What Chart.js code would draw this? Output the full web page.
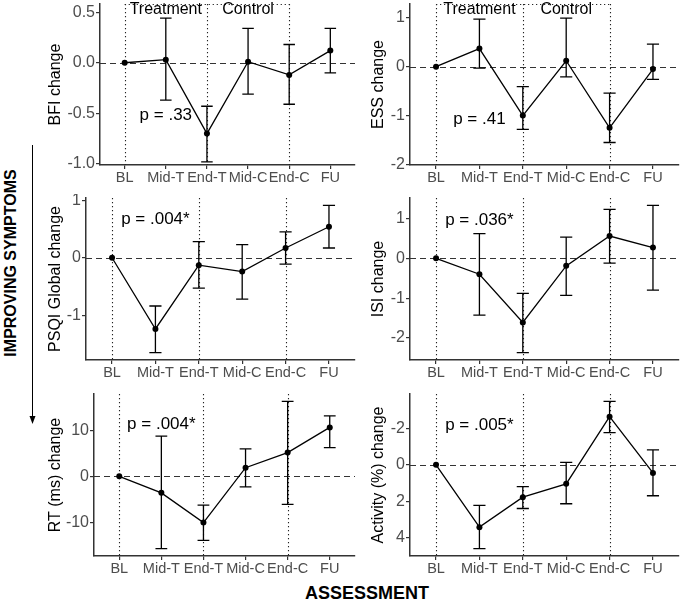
<!DOCTYPE html>
<html>
<head>
<meta charset="utf-8">
<script src="https://cdn.jsdelivr.net/npm/chart.js@4"></script>
<style>
  body { margin: 0; background: #fff; }
  #fig { position: relative; width: 685px; height: 601px; font-family: "Liberation Sans", Arial, sans-serif; }
  #sideLabel { position: absolute; left: 11px; top: 263px; transform: translate(-50%, -50%) rotate(-90deg);
               font-weight: bold; font-size: 16px; white-space: nowrap; color: #000; }
  #bottomLabel { position: absolute; left: 367px; top: 593px; transform: translate(-50%, -50%);
                 font-weight: bold; font-size: 18px; white-space: nowrap; color: #000; }
</style>
</head>
<body>
<div id="fig">
  <svg width="685" height="601" style="position:absolute;left:0;top:0">
    <line x1="32.5" y1="145" x2="32.5" y2="417" stroke="#000" stroke-width="1"/>
    <polygon points="29.5,416 35.5,416 32.5,424" fill="#000"/>
  </svg>
  <div id="sideLabel">IMPROVING SYMPTOMS</div>
  <div id="bottomLabel">ASSESSMENT</div>
</div>
<script>
// categories and phase markers
const assessments = ['BL', 'Mid-T', 'End-T', 'Mid-C', 'End-C', 'FU'];
const phaseLines = ['BL', 'End-T', 'End-C'];
const phaseNames = ['Treatment', 'Control'];

const measures = ['BFI change', 'ESS change', 'PSQI Global change', 'ISI change', 'RT (ms) change', 'Activity (%) change'];
const pLabels = ['p = .33', 'p = .41', 'p = .004*', 'p = .036*', 'p = .004*', 'p = .005*'];

// mean change and error bar ends
const bfiMean = [0, 0.03, -0.70, 0.01, -0.12, 0.12];
const bfiLow  = [0, -0.37, -0.98, -0.31, -0.41, -0.10];
const bfiHigh = [0, 0.44, -0.43, 0.34, 0.18, 0.34];

const essMean = [0, 0.37, -1.00, 0.12, -1.25, -0.05];
const essLow  = [0, -0.03, -1.28, -0.21, -1.55, -0.26];
const essHigh = [0, 0.97, -0.41, 0.99, -0.54, 0.46];

const psqiMean = [0, -1.24, -0.13, -0.24, 0.17, 0.54];
const psqiLow  = [0, -1.65, -0.53, -0.72, -0.11, 0.17];
const psqiHigh = [0, -0.84, 0.28, 0.23, 0.45, 0.91];

const isiMean = [0, -0.40, -1.61, -0.19, 0.56, 0.27];
const isiLow  = [0, -1.43, -2.37, -0.93, -0.12, -0.80];
const isiHigh = [0, 0.62, -0.88, 0.53, 1.23, 1.33];

const rtMean = [0, -3.6, -10.1, 1.9, 5.2, 10.7];
const rtLow  = [0, -15.8, -14.0, -2.3, -6.1, 6.3];
const rtHigh = [0, 8.8, -6.3, 6.0, 16.4, 13.2];

const actMean = [0, 3.41, 1.77, 1.04, -2.64, 0.44];
const actLow  = [0, 2.22, 1.19, -0.14, -3.48, -0.82];
const actHigh = [0, 4.59, 2.39, 2.13, -1.77, 1.69];

// y tick labels
const bfiTicks = [-1.0, -0.5, 0, 0.5];
const essTicks = [-2, -1, 0, 1];
const psqiTicks = [-1, 0, 1];
const isiTicks = [-2, -1, 0, 1];
const rtTicks = [-10, 0, 10];
const actTicks = [-2, 0, 2, 4];

Chart.defaults.font.family = '"Liberation Sans", Arial, sans-serif';

// panel layout: box = [left, top, width, height]
const panels = [
  { mean: bfiMean, low: bfiLow, high: bfiHigh, ticks: bfiTicks, digits: 1, min: -1.01, max: 0.58,
    pY: -0.51, box: [40, 0, 319, 187], yw: 60, pad: 3, tpad: 6, phases: true },
  { mean: essMean, low: essLow, high: essHigh, ticks: essTicks, digits: 0, min: -2.01, max: 1.28,
    pY: -1.05, box: [360, 0, 323, 187], yw: 50, pad: 3, tpad: 9, phases: true },
  { mean: psqiMean, low: psqiLow, high: psqiHigh, ticks: psqiTicks, digits: 0, min: -1.78, max: 1.04,
    pY: 0.69, box: [40, 194, 319, 188], yw: 46, pad: 4, tpad: 6 },
  { mean: isiMean, low: isiLow, high: isiHigh, ticks: isiTicks, digits: 0, min: -2.555, max: 1.515,
    pY: 0.98, box: [360, 194, 323, 188], yw: 50, pad: 4, tpad: 9 },
  { mean: rtMean, low: rtLow, high: rtHigh, ticks: rtTicks, digits: 0, min: -17.4, max: 18.0,
    pY: 11.6, box: [40, 390, 319, 188], yw: 54, pad: 3, tpad: 6 },
  { mean: actMean, low: actLow, high: actHigh, ticks: actTicks, digits: 0, min: -3.88, max: 4.99,
    pY: -2.26, box: [360, 390, 323, 188], yw: 50, pad: 3, tpad: 9, reverse: true }
];

const decor = {
  id: 'panelDecor',
  beforeDatasetsDraw(chart, args, opts) {
    const {ctx, chartArea: a, scales: {x, y}} = chart;
    ctx.save();
    ctx.strokeStyle = '#222';
    ctx.lineWidth = 1.1;
    ctx.setLineDash([1.2, 2.8]);
    phaseLines.forEach(name => {
      const px = Math.round(x.getPixelForValue(assessments.indexOf(name))) + 0.5;
      ctx.beginPath(); ctx.moveTo(px, a.top); ctx.lineTo(px, a.bottom); ctx.stroke();
    });
    if (opts.phases) {
      const x0 = x.getPixelForValue(assessments.indexOf(phaseLines[0]));
      const x2 = x.getPixelForValue(assessments.indexOf(phaseLines[2]));
      ctx.beginPath(); ctx.moveTo(x0, a.top + 0.5); ctx.lineTo(x2, a.top + 0.5); ctx.stroke();
      ctx.fillStyle = '#000';
      ctx.font = '16px "Liberation Sans", Arial, sans-serif';
      ctx.textAlign = 'center';
      ctx.textBaseline = 'alphabetic';
      phaseNames.forEach((name, k) => {
        const l = x.getPixelForValue(assessments.indexOf(phaseLines[k]));
        const r = x.getPixelForValue(assessments.indexOf(phaseLines[k + 1]));
        ctx.fillText(name, (l + r) / 2, a.top + 10);
      });
    }
    const y0 = Math.round(y.getPixelForValue(0)) + 0.5;
    ctx.setLineDash([6, 4]);
    ctx.lineWidth = 1.2;
    ctx.strokeStyle = '#333';
    ctx.beginPath(); ctx.moveTo(a.left, y0); ctx.lineTo(a.right, y0); ctx.stroke();
    ctx.restore();
  },
  afterDatasetsDraw(chart, args, opts) {
    const {ctx, scales: {x, y}} = chart;
    ctx.save();
    ctx.strokeStyle = '#000';
    ctx.lineWidth = 1.3;
    opts.low.forEach((lo, k) => {
      const hi = opts.high[k];
      if (lo === hi) return;
      const px = x.getPixelForValue(k);
      const l = x.getPixelForValue(k - 0.14), r = x.getPixelForValue(k + 0.14);
      const y1 = y.getPixelForValue(lo), y2 = y.getPixelForValue(hi);
      ctx.beginPath();
      ctx.moveTo(px, y1); ctx.lineTo(px, y2);
      ctx.moveTo(l, y1); ctx.lineTo(r, y1);
      ctx.moveTo(l, y2); ctx.lineTo(r, y2);
      ctx.stroke();
    });
    ctx.fillStyle = '#000';
    ctx.font = '17px "Liberation Sans", Arial, sans-serif';
    ctx.textAlign = 'center';
    ctx.textBaseline = 'alphabetic';
    ctx.fillText(opts.label, x.getPixelForValue(1), y.getPixelForValue(opts.labelY) + 6);
    ctx.restore();
  }
};

const fig = document.getElementById('fig');

function makePanel(p, i) {
  const [left, top, w, h] = p.box;
  const c = document.createElement('canvas');
  c.width = w;
  c.height = h;
  c.style.cssText = `position:absolute;left:${left}px;top:${top}px;width:${w}px;height:${h}px`;
  fig.appendChild(c);

  const axisGrid = { drawOnChartArea: false, drawTicks: true, tickLength: 4, color: '#333', lineWidth: 1.2 };
  const axisBorder = { display: true, color: '#333', width: 1.5 };

  new Chart(c, {
    type: 'line',
    data: {
      datasets: [{
        data: p.mean.map((v, k) => ({x: k, y: v})),
        borderColor: '#000',
        borderWidth: 1.3,
        pointRadius: 3,
        pointBackgroundColor: '#000',
        pointBorderWidth: 0,
        tension: 0
      }]
    },
    options: {
      responsive: false,
      animation: false,
      layout: { padding: { top: p.pad, left: 0, right: 0, bottom: 0 } },
      plugins: {
        legend: { display: false },
        tooltip: { enabled: false },
        panelDecor: { low: p.low, high: p.high, label: pLabels[i], labelY: p.pY, phases: !!p.phases }
      },
      scales: {
        x: {
          type: 'linear',
          min: -0.6,
          max: 5.6,
          afterBuildTicks: s => { s.ticks = assessments.map((_, k) => ({value: k})); },
          afterFit: s => { s.height = 22; s.paddingLeft = 0; s.paddingRight = 0; },
          ticks: {
            callback: v => assessments[v],
            autoSkip: false, maxRotation: 0, padding: 0,
            color: '#4d4d4d', font: { size: 14.5 }
          },
          grid: axisGrid,
          border: axisBorder
        },
        y: {
          type: 'linear',
          min: p.min,
          max: p.max,
          reverse: !!p.reverse,
          afterBuildTicks: s => { s.ticks = p.ticks.map(v => ({value: v})); },
          afterFit: s => { s.width = p.yw; s.paddingTop = 0; s.paddingBottom = 0; },
          ticks: {
            callback: v => v.toFixed(p.digits),
            padding: 1,
            color: '#4d4d4d', font: { size: 16 }
          },
          title: {
            display: true, text: measures[i], color: '#000',
            font: { size: 16 }, padding: { top: p.tpad, bottom: 0 }
          },
          grid: axisGrid,
          border: axisBorder
        }
      }
    },
    plugins: [decor]
  });
}

panels.forEach(makePanel);
</script>
</body>
</html>
